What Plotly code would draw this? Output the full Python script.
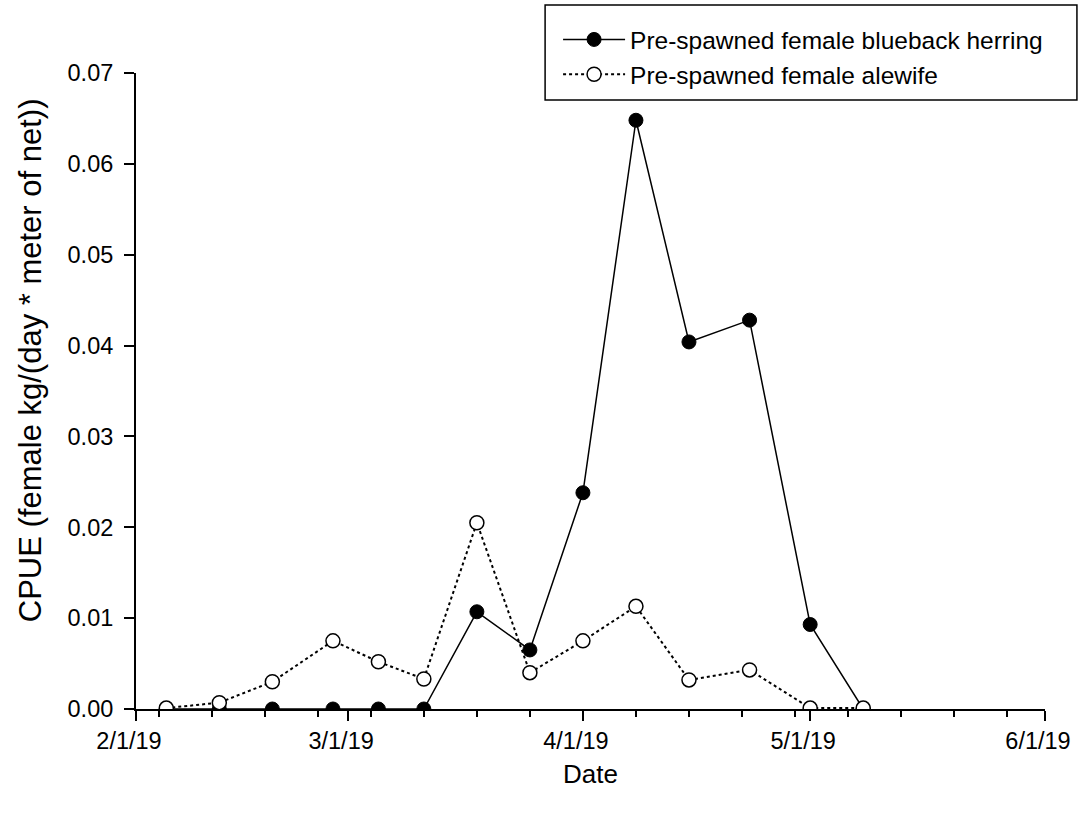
import plotly.graph_objects as go

dates = ["2019-02-05", "2019-02-12", "2019-02-19", "2019-02-27", "2019-03-05",
         "2019-03-11", "2019-03-18", "2019-03-25", "2019-04-01", "2019-04-08",
         "2019-04-15", "2019-04-23", "2019-05-01", "2019-05-08"]
blueback = [0.0, 0.0, 0.0, 0.0, 0.0, 0.0, 0.0107, 0.0065, 0.0238, 0.0648,
            0.0404, 0.0428, 0.0093, 0.0]
alewife = [0.0001, 0.0007, 0.0030, 0.0075, 0.0052, 0.0033, 0.0205, 0.0040,
           0.0075, 0.0113, 0.0032, 0.0043, 0.0001, 0.0001]
y_ticks = [0.00, 0.01, 0.02, 0.03, 0.04, 0.05, 0.06, 0.07]
y_title = "CPUE (female kg/(day * meter of net))"
x_title = "Date"

FONT = "Liberation Sans, Arial, sans-serif"

# plot area in pixels
L, R, T, B = 136, 36, 73, 109
W, H = 1083, 818
PW, PH = W - L - R, H - T - B


def px_x(px):
    return (px - L) / PW


def px_y(py):
    return (H - B - py) / PH


fig = go.Figure()
fig.add_trace(go.Scatter(
    x=dates, y=blueback, mode="lines+markers",
    name="Pre-spawned female blueback herring",
    line=dict(color="black", width=1.5),
    marker=dict(symbol="circle", size=14, color="black",
                line=dict(color="black", width=1)),
))
fig.add_trace(go.Scatter(
    x=dates, y=alewife, mode="lines+markers",
    name="Pre-spawned female alewife",
    line=dict(color="black", width=2, dash="dot"),
    marker=dict(symbol="circle", size=14, color="white",
                line=dict(color="black", width=1.5)),
))

# legend frame
fig.add_shape(type="rect", xref="paper", yref="paper",
              x0=px_x(546), x1=px_x(1079), y0=px_y(100), y1=px_y(5),
              line=dict(color="black", width=1.5), fillcolor="rgba(0,0,0,0)",
              layer="above")

# y-axis title
fig.add_annotation(text=y_title, xref="paper", yref="paper",
                   x=px_x(30), y=px_y(360), textangle=-90,
                   showarrow=False, xanchor="center", yanchor="middle",
                   font=dict(family=FONT, size=31, color="black"))

fig.update_layout(
    width=W, height=H,
    margin=dict(l=L, r=R, t=T, b=B),
    paper_bgcolor="white", plot_bgcolor="white",
    font=dict(family=FONT, size=23.5, color="black"),
    showlegend=True,
    legend=dict(
        x=px_x(559), y=px_y(57), xanchor="left", yanchor="middle",
        borderwidth=0, bgcolor="rgba(0,0,0,0)",
        font=dict(family=FONT, size=24.5, color="black"),
        tracegroupgap=0, itemwidth=62,
    ),
    xaxis=dict(
        type="date",
        range=["2019-02-01", "2019-06-01"],
        tick0="2019-02-01", dtick="M1", tickformat="%-m/%-d/%y",
        ticks="outside", ticklen=10, tickwidth=1.5, tickcolor="black",
        showline=True, linecolor="black", linewidth=2,
        showgrid=False, zeroline=False,
        ticklabelshift=-7,
        minor=dict(dtick=7 * 86400000, tick0="2019-02-04", ticks="outside",
                   ticklen=6, tickwidth=1.5, tickcolor="black", showgrid=False),
        title=dict(text=x_title, font=dict(size=26), standoff=12),
        tickfont=dict(size=23.5),
    ),
    yaxis=dict(
        range=[0, 0.07],
        tickvals=y_ticks, tickformat=".2f",
        ticks="outside", ticklen=10, tickwidth=1.5, tickcolor="black",
        showline=True, linecolor="black", linewidth=2,
        showgrid=False, zeroline=False,
        ticklabelstandoff=6,
        tickfont=dict(size=23.5),
    ),
)

fig.write_html("out.html")
